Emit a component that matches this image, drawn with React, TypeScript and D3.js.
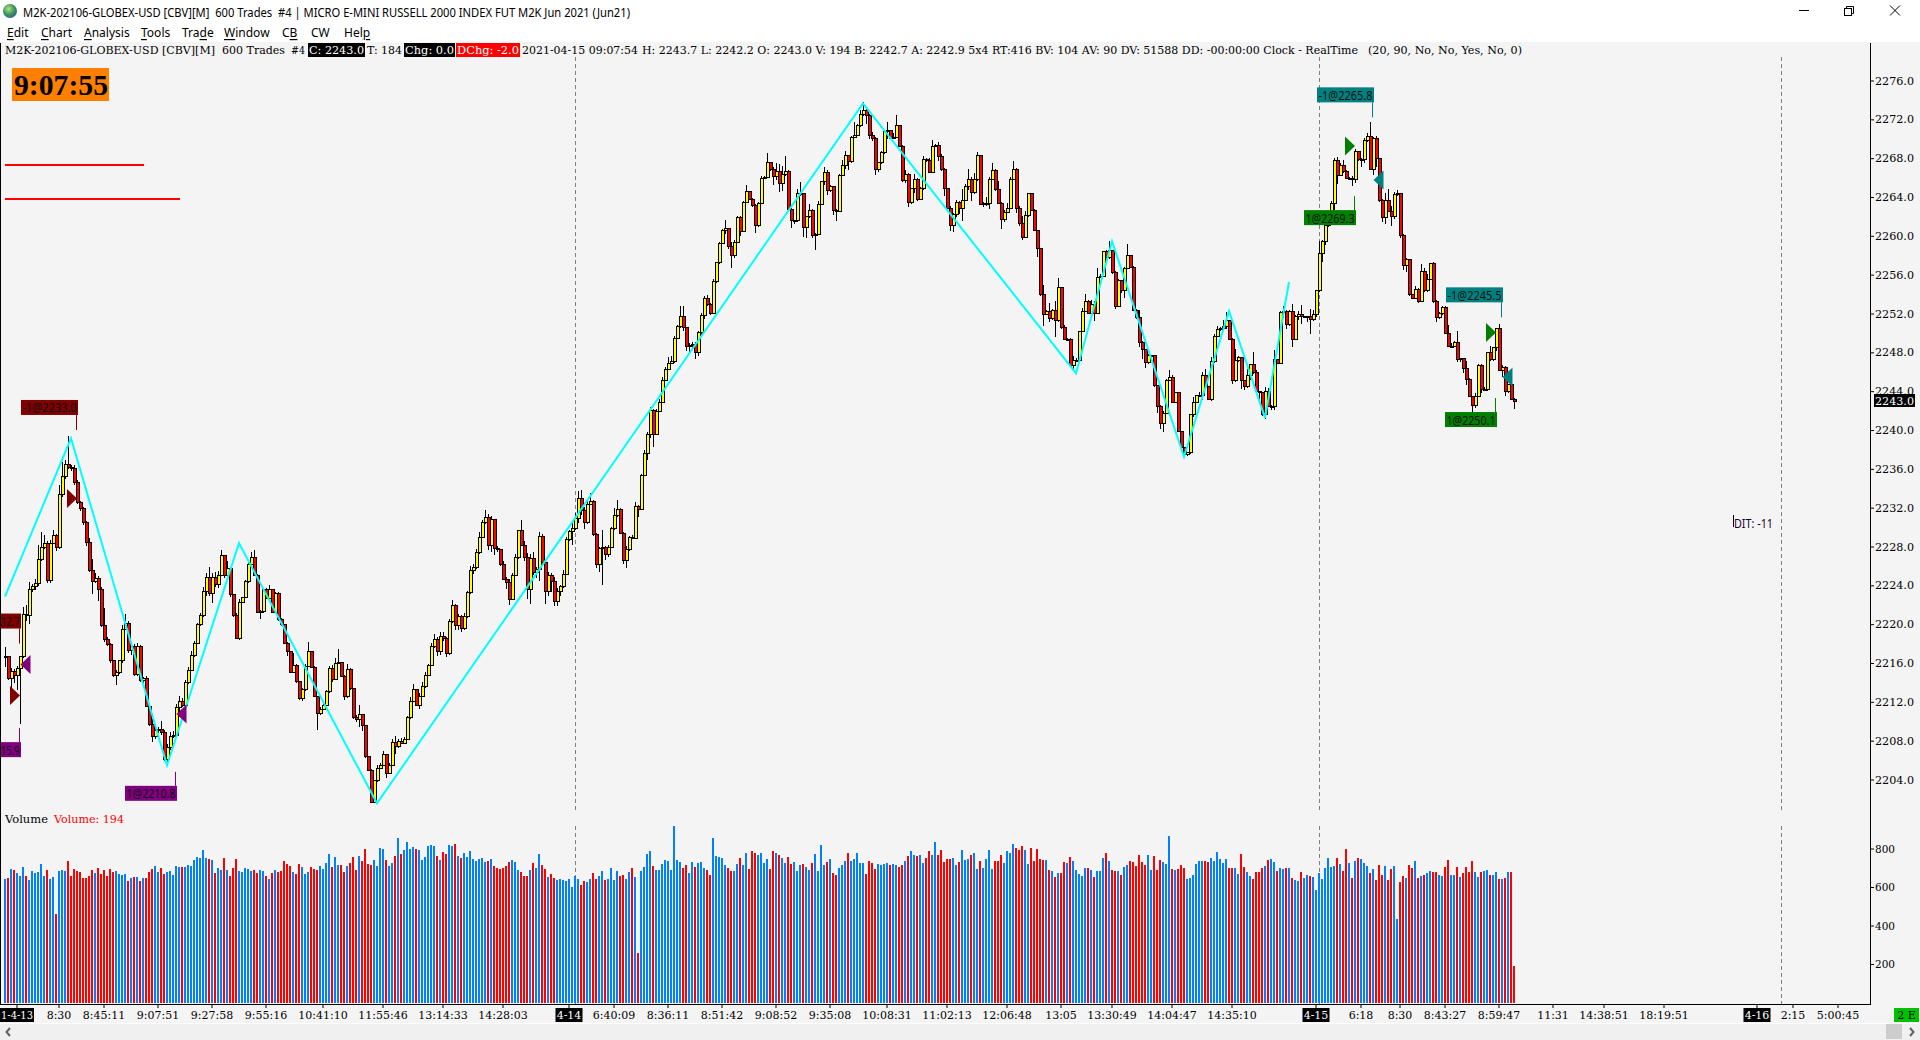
import React from 'react';
import * as d3 from 'd3';

const WIDTH = 1920;
const HEIGHT = 1040;
const AXIS_X = 1871;
const BASE_Y = 1004;

// last trade of each 600 trade bar, open is the previous bar's close
const closes = [
  2216.7,2214.5,2215.2,2214.8,2215.5,2216.7,2221.0,2220.9,2223.6,2223.9,
  2224.2,2226.7,2228.0,2228.4,2224.5,2228.4,2229.2,2227.9,2233.4,2235.3,
  2236.5,2236.2,2236.1,2234.6,2232.6,2232.0,2230.5,2228.5,2225.6,2224.4,
  2224.8,2223.6,2219.9,2218.5,2218.0,2216.3,2214.8,2215.1,2216.3,2219.5,
  2220.1,2217.3,2217.7,2214.9,2217.8,2214.3,2214.5,2211.6,2209.7,2208.5,
  2209.1,2209.2,2208.9,2206.1,2207.3,2208.5,2208.6,2211.5,2212.1,2211.7,
  2214.0,2215.3,2216.8,2218.1,2220.0,2220.9,2223.4,2224.9,2223.2,2224.9,
  2224.1,2225.1,2227.1,2225.1,2225.8,2223.1,2220.9,2218.6,2222.3,2222.8,
  2224.4,2226.2,2226.9,2225.1,2221.3,2221.4,2223.6,2222.7,2223.6,2221.3,
  2223.2,2220.5,2220.0,2218.1,2217.2,2215.1,2215.8,2214.1,2212.4,2213.3,
  2215.7,2217.2,2215.6,2212.6,2210.8,2211.3,2211.7,2213.1,2215.5,2214.4,
  2216.0,2216.1,2214.7,2212.6,2215.4,2213.4,2210.4,2210.2,2210.7,2209.6,
  2206.4,2205.0,2201.7,2203.9,2205.2,2205.5,2206.6,2204.7,2205.5,2207.9,
  2207.4,2208.0,2207.8,2208.2,2210.4,2212.1,2213.3,2211.7,2212.6,2213.6,
  2214.8,2215.8,2217.7,2218.5,2217.2,2218.8,2218.6,2217.0,2220.3,2222.0,
  2219.9,2220.8,2219.6,2220.8,2223.3,2225.6,2225.9,2227.4,2229.0,2230.5,
  2231.0,2228.2,2230.8,2227.8,2227.7,2226.2,2224.7,2224.3,2222.6,2225.1,
  2226.9,2229.7,2228.2,2226.9,2223.6,2226.8,2225.4,2225.7,2229.1,2226.4,
  2223.4,2225.1,2224.4,2222.4,2223.4,2223.9,2225.2,2228.8,2229.6,2229.9,
  2230.9,2233.0,2231.8,2230.5,2232.4,2232.7,2229.3,2226.2,2227.8,2228.0,
  2227.2,2228.0,2229.9,2231.2,2231.9,2229.4,2226.6,2227.7,2229.0,2228.9,
  2232.2,2231.9,2235.4,2237.6,2239.6,2242.1,2239.6,2242.0,2242.9,2245.2,
  2246.3,2246.9,2247.1,2249.5,2250.7,2251.7,2250.6,2248.7,2248.8,2248.9,
  2248.0,2250.1,2251.8,2253.6,2253.0,2252.1,2255.3,2257.3,2259.3,2260.6,
  2260.8,2259.0,2258.0,2259.4,2261.9,2260.5,2263.5,2264.6,2263.8,2263.2,
  2261.1,2263.4,2266.0,2266.1,2267.6,2266.9,2266.2,2266.7,2265.4,2266.4,
  2266.7,2262.8,2261.6,2261.6,2264.4,2264.4,2260.9,2262.0,2262.7,2260.1,
  2260.2,2263.3,2265.6,2266.6,2264.7,2265.1,2262.7,2262.6,2266.3,2267.3,
  2268.3,2267.7,2270.2,2270.4,2271.4,2272.5,2273.0,2272.4,2270.4,2270.1,
  2266.9,2267.6,2268.6,2270.8,2270.9,2270.1,2270.2,2271.4,2269.3,2265.8,
  2266.4,2263.5,2264.9,2265.9,2263.8,2264.9,2267.9,2267.8,2266.6,2269.3,
  2269.4,2268.2,2266.9,2264.9,2262.9,2261.1,2262.2,2263.5,2262.9,2263.7,
  2265.1,2265.9,2264.5,2265.9,2268.3,2263.3,2263.4,2263.4,2265.9,2266.8,
  2264.8,2263.4,2261.7,2262.5,2262.9,2265.9,2266.9,2262.9,2261.3,2259.9,
  2262.1,2264.4,2262.7,2260.6,2258.7,2254.0,2252.0,2252.3,2251.5,2252.4,
  2251.3,2254.7,2250.6,2249.4,2249.4,2246.7,2247.2,2247.2,2250.2,2252.3,
  2253.3,2252.1,2253.0,2252.1,2255.8,2255.9,2258.4,2257.8,2258.5,2256.3,
  2252.8,2255.4,2254.4,2256.7,2258.0,2256.8,2252.4,2251.6,2249.1,2248.3,
  2247.0,2247.7,2247.7,2244.6,2242.5,2240.7,2241.8,2245.2,2245.5,2242.9,
  2243.9,2239.9,2238.2,2237.5,2237.7,2241.6,2242.9,2243.6,2243.6,2245.7,
  2244.5,2243.2,2247.1,2249.7,2250.4,2250.5,2250.7,2251.3,2249.4,2245.1,
  2247.2,2247.5,2245.1,2244.5,2245.7,2246.8,2246.0,2244.0,2243.9,2241.6,
  2244.0,2242.5,2242.5,2247.3,2246.9,2252.2,2252.3,2250.9,2252.3,2249.4,
  2251.7,2252.0,2251.7,2251.7,2251.7,2251.4,2251.9,2254.4,2258.2,2259.5,
  2261.1,2262.1,2263.4,2267.8,2266.3,2267.3,2266.7,2266.0,2266.0,2265.9,
  2268.7,2267.9,2267.9,2269.9,2270.3,2266.9,2270.1,2268.0,2263.7,2261.9,
  2263.7,2262.6,2262.0,2264.3,2264.4,2260.1,2257.0,2257.6,2254.0,2253.6,
  2254.5,2253.3,2256.4,2254.4,2255.6,2257.2,2253.3,2251.6,2252.1,2252.7,
  2250.0,2248.7,2248.7,2249.1,2247.3,2247.4,2246.4,2245.3,2243.5,2242.6,
  2243.5,2246.7,2244.2,2244.2,2248.0,2247.3,2248.5,2250.5,2246.2,2246.5,
  2244.0,2244.7,2243.2,2243.0,
];
const firstOpen = 2216.6;

// wick lengths above / below the body, in points
const upperWicks = [
  1.0,0.1,0.3,0.2,0.2,0.1,0.8,1.0,0.8,0.3,
  0.5,1.5,1.5,0.8,0.2,0.3,0.5,0.1,1.0,1.5,
  0.5,2.9,0.2,0.3,0.3,0.1,0.1,0.2,0.4,1.2,
  0.5,0.2,0.3,1.8,0.2,0.1,0.1,0.2,0.1,0.5,
  1.0,0.3,0.5,0.3,0.3,0.1,0.1,0.2,0.1,0.6,
  0.4,0.3,0.9,0.2,0.4,0.4,0.4,0.3,0.6,0.3,
  0.3,0.3,0.5,0.2,0.2,0.3,0.5,0.4,1.0,0.4,
  0.5,0.4,0.6,0.1,0.8,0.1,0.1,0.3,0.3,0.1,
  0.2,0.2,0.6,0.8,0.1,0.1,0.1,0.2,0.5,0.1,
  0.2,0.2,0.2,0.1,0.1,0.1,1.3,0.1,0.1,0.2,
  0.2,1.0,0.1,0.1,0.1,0.2,0.3,0.2,0.2,0.3,
  0.6,1.4,0.1,0.1,0.6,0.1,0.1,0.3,1.0,0.1,
  0.1,0.1,0.1,0.1,0.3,0.2,0.4,0.1,0.2,0.3,
  0.6,0.2,0.3,0.2,0.2,0.5,0.6,0.1,0.4,0.5,
  0.3,0.2,0.4,0.5,0.2,0.4,0.4,0.1,0.3,0.5,
  0.1,0.3,0.2,0.4,0.2,0.4,0.4,0.4,0.5,0.3,
  0.8,0.4,0.4,0.1,0.3,0.1,0.4,0.2,0.4,0.2,
  0.4,0.1,1.1,0.4,0.5,0.5,0.7,0.2,0.4,0.2,
  0.2,0.3,0.2,0.5,0.4,0.2,0.4,0.2,0.2,0.6,
  0.6,0.8,0.9,0.3,0.5,0.9,0.1,0.1,0.2,1.7,
  0.1,0.2,0.2,0.8,0.9,0.1,0.1,0.4,0.1,0.2,
  0.4,0.1,0.1,0.4,0.2,0.3,0.1,0.2,0.3,0.3,
  0.2,0.7,0.6,0.2,0.2,1.1,1.1,0.1,0.2,0.2,
  0.2,0.2,0.3,0.3,0.4,0.1,0.3,0.1,0.1,0.2,
  0.9,0.1,0.4,0.2,0.2,0.2,0.1,0.7,0.1,0.1,
  0.1,0.1,0.2,0.1,1.0,0.1,0.2,0.9,0.7,0.8,
  1.6,0.1,0.1,0.1,0.5,1.2,0.1,0.1,0.6,0.1,
  0.1,0.3,0.1,0.5,0.2,0.2,0.1,0.1,0.1,0.6,
  0.5,0.1,0.1,1.4,0.2,0.5,0.8,0.3,0.2,0.3,
  0.1,0.1,0.2,0.2,0.9,0.1,0.4,1.1,0.1,0.1,
  0.4,0.1,0.1,0.5,0.1,0.2,0.4,0.2,0.3,0.6,
  0.1,0.3,0.3,0.1,0.1,0.2,0.2,0.2,0.1,1.2,
  0.3,1.0,0.2,0.6,0.4,0.1,0.1,0.7,0.2,0.8,
  0.1,0.9,0.1,0.2,0.5,0.2,0.9,0.1,0.2,0.8,
  0.5,0.1,0.1,0.1,0.1,0.1,1.0,0.1,0.8,0.1,
  0.9,1.0,0.1,0.3,0.1,0.1,0.5,0.3,0.1,0.3,
  0.8,0.1,0.4,0.3,0.9,0.2,0.1,0.2,1.0,0.1,
  0.1,0.2,0.1,0.1,1.2,0.1,0.1,0.1,0.8,0.1,
  0.1,0.2,0.1,0.1,0.1,0.1,0.2,0.1,0.7,0.2,
  0.1,0.1,0.1,0.1,0.1,0.1,0.5,0.1,0.4,0.3,
  0.6,0.1,0.5,0.2,0.4,0.2,0.7,0.9,0.1,0.1,
  1.2,0.2,0.1,0.1,0.6,0.1,1.3,0.2,0.1,0.1,
  0.5,0.4,0.1,1.0,0.1,0.1,0.5,0.1,0.1,0.7,
  0.2,0.3,0.9,0.1,0.1,0.8,0.5,0.1,1.3,0.1,
  0.5,0.1,0.2,0.3,0.4,0.3,0.6,0.1,0.1,0.2,
  0.3,0.1,0.2,0.2,0.3,1.5,0.1,0.2,0.1,0.1,
  0.8,1.2,0.5,0.3,0.4,0.1,0.1,0.2,0.1,0.1,
  0.4,0.2,0.8,0.3,0.5,0.1,0.2,0.1,0.1,0.1,
  0.1,0.9,0.3,0.1,1.1,0.1,0.1,0.8,0.1,0.1,
  0.4,0.1,0.2,0.3,0.1,0.7,0.1,0.1,0.5,0.2,
  0.1,0.1,0.1,0.1,
];
const lowerWicks = [
  1.0,0.2,1.3,0.8,1.5,5.7,0.1,0.5,0.8,0.2,
  0.3,0.2,0.1,0.2,0.2,0.2,0.1,0.3,0.1,0.2,
  0.3,0.2,0.3,0.2,0.2,0.3,0.2,0.4,0.2,1.2,
  0.1,1.2,0.1,0.3,0.2,0.2,0.2,1.0,0.2,0.2,
  0.1,0.2,0.4,0.2,0.2,0.2,0.3,0.1,0.1,0.6,
  0.3,0.3,0.3,0.1,0.2,0.2,0.2,0.2,1.0,0.2,
  0.1,0.1,0.1,0.1,0.1,0.1,0.1,0.4,0.2,1.0,
  0.2,0.3,0.1,0.3,0.1,0.3,0.1,0.1,0.2,0.1,
  0.1,0.1,0.1,0.1,0.1,0.7,0.2,0.1,0.4,0.1,
  0.1,0.1,0.1,0.1,0.4,0.1,0.1,0.1,0.2,0.3,
  0.1,0.1,0.1,0.1,1.6,0.1,0.1,0.1,0.1,0.3,
  0.1,0.1,0.1,0.4,0.2,0.1,0.1,0.2,0.7,0.6,
  0.1,0.1,0.1,0.1,0.1,0.1,0.1,0.5,0.1,0.1,
  0.7,0.1,0.1,0.1,0.1,0.1,0.1,0.1,0.4,0.1,
  0.1,0.1,0.1,0.1,0.4,0.3,0.3,0.3,0.1,0.1,
  0.4,0.5,0.4,0.1,0.1,0.1,0.4,0.2,0.1,0.1,
  0.1,0.5,0.7,0.6,0.2,0.2,0.1,0.6,0.6,0.1,
  0.1,0.1,0.1,0.3,1.0,1.5,0.3,0.6,1.2,0.2,
  1.3,0.4,1.0,0.5,0.5,0.4,0.1,0.1,0.2,1.4,
  0.1,0.4,0.5,0.6,0.1,0.1,0.2,0.4,0.8,3.7,
  0.5,0.2,0.1,0.1,0.1,0.1,0.3,0.8,0.1,0.1,
  0.1,0.8,0.1,0.1,0.6,0.4,1.3,0.1,0.1,0.1,
  0.1,0.1,0.1,0.1,0.1,0.1,0.3,0.5,0.8,0.5,
  0.6,0.3,0.4,0.3,0.2,0.2,0.1,0.1,0.1,0.1,
  0.4,0.3,1.3,0.2,0.1,0.5,0.1,0.1,0.1,0.2,
  0.8,0.1,0.1,0.1,0.1,0.2,0.9,0.4,0.8,0.7,
  0.2,0.3,0.7,0.3,0.1,0.2,1.0,1.1,0.1,0.3,
  1.5,0.1,0.1,0.3,0.4,0.1,0.5,1.0,0.1,0.1,
  0.4,0.9,0.1,0.1,0.1,0.1,0.1,0.8,0.4,0.3,
  0.6,0.3,0.2,0.1,0.8,0.1,0.1,0.1,0.1,0.2,
  0.3,0.5,0.2,0.4,0.2,0.1,0.1,0.1,0.1,0.1,
  0.1,0.4,0.2,0.7,0.3,0.5,0.7,0.2,0.6,1.3,
  0.1,0.3,0.9,0.1,0.2,0.1,0.3,0.3,0.6,0.1,
  0.1,0.1,0.9,0.2,0.1,0.1,0.1,0.5,0.2,0.3,
  0.1,0.1,0.1,0.1,0.8,0.1,1.2,0.1,0.3,0.1,
  1.7,0.1,0.1,0.1,0.1,0.1,0.5,0.1,0.1,0.1,
  0.1,0.1,0.2,0.8,0.1,0.1,0.1,0.1,0.1,0.2,
  0.3,0.1,0.2,0.8,0.1,0.1,0.1,0.1,0.5,0.9,
  0.6,0.1,0.1,0.1,0.7,0.5,0.9,0.1,0.1,0.1,
  0.1,0.1,0.1,0.1,0.1,0.1,0.2,0.1,0.1,0.5,
  0.1,0.1,0.2,0.1,0.1,0.1,0.3,0.2,0.1,0.3,
  0.1,0.1,0.8,0.3,0.1,0.5,0.2,0.1,0.9,0.1,
  0.4,0.1,0.4,0.4,0.1,0.1,0.6,0.4,0.1,0.8,
  0.1,0.3,0.7,0.1,0.5,1.5,0.1,0.2,0.1,0.8,
  0.4,0.1,0.1,0.7,0.9,0.1,0.2,0.1,0.1,0.7,
  0.4,0.1,0.8,0.3,0.2,0.1,0.6,0.9,0.2,0.4,
  0.6,0.1,0.9,0.2,0.1,0.3,0.5,0.7,0.1,0.1,
  0.1,0.2,0.1,0.1,0.1,0.1,0.2,0.4,0.1,0.2,
  0.1,0.1,0.1,0.1,0.2,0.2,0.5,0.6,0.1,0.8,
  0.3,0.1,0.3,0.1,0.1,0.1,0.1,0.3,0.1,0.7,
  0.4,0.1,0.1,0.8,
];

const volumes = [
  644,649,696,691,675,660,706,660,639,686,
  675,680,722,660,691,644,654,462,686,691,
  686,738,660,696,686,680,649,649,660,691,
  675,701,670,691,660,696,680,686,670,665,
  670,634,649,654,654,634,649,649,680,696,
  712,680,701,670,680,686,665,712,706,706,
  706,717,712,743,758,753,795,753,748,743,
  675,701,691,753,691,660,701,748,686,680,
  701,696,686,691,675,691,686,660,644,675,
  691,680,686,738,722,712,680,670,722,706,
  670,680,706,696,691,712,696,727,774,706,
  758,717,717,680,712,727,758,691,764,738,
  800,722,717,743,712,805,800,743,712,727,
  764,857,774,795,836,800,810,800,795,743,
  758,815,821,815,764,743,784,774,821,815,
  826,764,753,779,758,790,748,738,748,753,
  732,738,748,712,701,696,701,712,732,743,
  732,691,680,660,660,691,727,701,774,717,
  696,654,670,649,639,644,639,634,644,602,
  660,642,613,634,627,644,675,644,660,686,
  639,644,701,639,686,660,665,644,680,701,654,260,
  686,706,774,790,712,691,691,722,743,738,
  691,919,743,732,701,717,675,732,706,727,
  732,701,691,665,857,764,758,753,717,701,
  686,686,722,753,717,779,696,790,779,769,
  779,727,748,696,790,779,769,753,727,758,
  722,732,686,717,722,706,691,727,774,686,
  821,717,732,748,675,665,701,717,738,779,
  738,748,779,727,727,670,738,727,696,722,
  717,722,727,717,722,717,706,717,738,764,
  790,769,764,769,727,753,790,769,836,769,
  795,732,748,748,753,717,732,795,743,748,
  769,779,696,738,701,748,795,696,738,738,
  769,727,790,779,826,805,795,815,795,722,
  805,738,800,748,743,743,691,686,654,675,
  675,732,727,758,738,691,670,660,701,701,
  691,654,686,686,753,779,738,691,686,686,
  665,706,717,738,732,712,769,732,717,769,
  691,764,691,743,732,722,867,696,691,696,
  717,701,644,649,665,722,738,738,738,732,
  753,738,784,748,727,748,701,701,701,670,
  774,706,680,660,644,680,680,701,712,743,
  748,732,686,701,
  696,701,701,649,639,634,680,649,665,660,
  654,587,675,644,701,753,706,712,753,722,
  686,800,727,649,738,753,748,727,712,675,
  696,639,717,665,712,639,696,712,436,628,
  660,649,717,701,738,649,660,665,675,686,
  680,680,665,660,706,743,665,665,706,654,
  675,706,680,738,680,654,680,686,691,665,
  665,680,644,644,649,680,680,194,
];

const priceTicks = d3.range(2204, 2280, 4);
const volumeTicks = [200, 400, 600, 800];
const lastPrice = 2243.0;

// zigzag study pivots
const zigzagBars = [0, 22, 54, 78, 124, 286, 357, 369, 393, 408, 420, 428];
const zigzagPrices = [2222.9, 2239.2, 2205.5, 2228.4, 2201.6, 2273.7, 2245.9, 2259.5, 2237.3, 2252.3, 2241.3, 2255.3];

// trades shown on the chart, the two at the left edge only show the end of their label
const tradeLabels = ['-1@2233.0', '12.7', '15.9', '1@2210.8', '-1@2265.8', '1@2269.3', '-1@2245.5', '1@2250.1'];
const tradePrices = [2233.0, 2212.7, 2215.9, 2210.8, 2265.8, 2269.3, 2245.5, 2250.1];
const tradeBars = [24, 5, 5, 57, 456, 450, 499, 497];
const tradeLabelPrices = [2241.6, 2219.6, 2207.9, 2203.4, 2273.8, 2262.7, 2253.2, 2241.9];
const tradeLabelAbove = [true, true, false, false, true, false, true, false];
const tradePointsRight = [true, true, false, false, false, true, false, true];
const tradeColors = ['#800000', '#800000', '#800080', '#800080', '#008080', '#007f00', '#008080', '#007f00'];

const timeLabels = ['8:30', '8:45:11', '9:07:51', '9:27:58', '9:55:16', '10:41:10', '11:55:46', '13:14:33', '14:28:03', '6:40:09', '8:36:11', '8:51:42', '9:08:52', '9:35:08', '10:08:31', '11:02:13', '12:06:48', '13:05', '13:30:49', '14:04:47', '14:35:10', '6:18', '8:30', '8:43:27', '8:59:47', '11:31', '14:38:51', '18:19:51', '2:15', '5:00:45'];
const timeBars = [18, 33, 51, 69, 87, 106, 126, 146, 166, 203, 221, 239, 257, 275, 294, 314, 334, 352, 369, 389, 409, 452, 465, 480, 498, 516, 533, 553, 596, 611];
const dateLabels = ['1-4-13', '4-14', '4-15', '4-16'];
const dateBars = [4, 188, 437, 584];
const sessionBars = [190, 438, 592];

const menuItems = ['Edit', 'Chart', 'Analysis', 'Tools', 'Trade', 'Window', 'CB', 'CW', 'Help'];
const menuHotkeys = [0, 0, 0, 0, 3, 0, 1, -1, 3];
const menuX = [7, 41, 84, 141, 182, 224, 282, 311, 344];

const SERIF = '"DejaVu Serif", serif';
const SANS = '"Noto Sans", sans-serif';

const xScale = d3.scaleLinear().domain([0, 503]).range([5, 1514]);
const yPrice = d3.scaleLinear().domain([2276, 2204]).range([81, 780]);
const yVolume = d3.scaleLinear().domain([0, 800]).range([1003, 849]);

const opens = closes.map((_, i) => (i === 0 ? firstOpen : closes[i - 1]));

function Fit({ x, y, w, children, fill = '#000', size = 11, font = SERIF, anchor = 'start', weight = 'normal' }: any) {
  return (
    <text
      x={x}
      y={y}
      fontFamily={font}
      fontSize={size}
      fontWeight={weight}
      fill={fill}
      textAnchor={anchor}
      dominantBaseline="central"
      textLength={w}
      lengthAdjust={w ? 'spacingAndGlyphs' : undefined}
      xmlSpace="preserve"
    >
      {children}
    </text>
  );
}

function Header() {
  return (
    <g>
      <Fit x={5} y={50} w={210}>M2K-202106-GLOBEX-USD [CBV][M]</Fit>
      <Fit x={222} y={50} w={63}>600 Trades</Fit>
      <Fit x={291} y={50} w={14}>#4</Fit>
      <rect x={308} y={43} width={57} height={14} fill="#000" />
      <Fit x={309} y={50} w={55} fill="#fff">C: 2243.0</Fit>
      <Fit x={367} y={50} w={35}>T: 184</Fit>
      <rect x={404} y={43} width={51} height={14} fill="#000" />
      <Fit x={405} y={50} w={49} fill="#fff">Chg: 0.0</Fit>
      <rect x={456} y={43} width={64} height={14} fill="#ff0000" />
      <Fit x={457} y={50} w={62} fill="#fff">DChg: -2.0</Fit>
      <Fit x={522} y={50} w={116}>2021-04-15 09:07:54</Fit>
      <Fit x={642} y={50} w={716}>H: 2243.7 L: 2242.2 O: 2243.0 V: 194 B: 2242.7 A: 2242.9 5x4 RT:416 BV: 104 AV: 90 DV: 51588 DD: -00:00:00 Clock - RealTime</Fit>
      <Fit x={1368} y={50} w={154}>(20, 90, No, No, Yes, No, 0)</Fit>
    </g>
  );
}

function TitleBar() {
  return (
    <g>
      <rect width={WIDTH} height={42} fill="#fff" />
      <defs>
        <radialGradient id="globe" cx="40%" cy="35%" r="70%">
          <stop offset="0%" stopColor="#b8e08a" />
          <stop offset="55%" stopColor="#3f9a55" />
          <stop offset="100%" stopColor="#2a5f9a" />
        </radialGradient>
      </defs>
      <circle cx={10} cy={11} r={7} fill="url(#globe)" />
      <Fit x={23} y={12} w={607} font={SANS} size={12}>M2K-202106-GLOBEX-USD [CBV][M]  600 Trades  #4 | MICRO E-MINI RUSSELL 2000 INDEX FUT M2K Jun 2021 (Jun21)</Fit>
      {menuItems.map((m, i) => (
        <text key={m} x={menuX[i]} y={32} fontFamily={SANS} fontSize={12} dominantBaseline="central" fill="#000">
          {m.split('').map((c, j) => (
            <tspan key={j} textDecoration={j === menuHotkeys[i] ? 'underline' : undefined}>{c}</tspan>
          ))}
        </text>
      ))}
      <line x1={1799} x2={1809} y1={10.5} y2={10.5} stroke="#000" />
      <rect x={1844.5} y={8.5} width={7} height={7} fill="#fff" stroke="#000" />
      <path d="M1846.5 8.5V6.5H1853.5V13.5H1851.5" fill="none" stroke="#000" />
      <path d="M1890 5.5L1900 15.5M1900 5.5L1890 15.5" stroke="#000" fill="none" />
    </g>
  );
}

function Candles() {
  return (
    <g shapeRendering="crispEdges">
      {closes.map((c, i) => {
        const o = opens[i];
        const top = Math.max(o, c);
        const bot = Math.min(o, c);
        const cx = Math.round(xScale(i));
        return (
          <g key={i}>
            <line
              x1={cx + 0.5}
              x2={cx + 0.5}
              y1={yPrice(top + upperWicks[i])}
              y2={yPrice(bot - lowerWicks[i])}
              stroke="#000"
            />
            <rect
              x={cx - 0.5}
              y={yPrice(top)}
              width={3}
              height={Math.max(yPrice(bot) - yPrice(top), 1)}
              fill={c >= o ? '#ffff00' : '#ff0000'}
              stroke="#000"
            />
          </g>
        );
      })}
    </g>
  );
}

function Trades() {
  return (
    <g>
      {tradeLabels.map((label, i) => {
        const sx = xScale(tradeBars[i]) - 0.5;
        const py = yPrice(tradePrices[i]);
        const edge = yPrice(tradeLabelPrices[i]);
        const short = label.length < 5;
        const boxW = short ? 21.5 : label.startsWith('-') ? 57 : 52;
        const boxY = tradeLabelAbove[i] ? edge - 15 : edge;
        const color = tradeColors[i];
        const tri = tradePointsRight[i]
          ? `M${sx - 9.5} ${py - 9.5}L${sx + 0.5} ${py}L${sx - 9.5} ${py + 9.5}Z`
          : `M${sx + 11} ${py - 9.5}L${sx + 1} ${py}L${sx + 11} ${py + 9.5}Z`;
        return (
          <g key={label}>
            <path d={tri} fill={color} />
            <line
              x1={sx}
              x2={sx}
              y1={tradeLabelAbove[i] ? edge : edge - 14}
              y2={tradeLabelAbove[i] ? edge + 15 : edge}
              stroke={color}
            />
            <rect x={sx + 1.5 - boxW} y={boxY} width={boxW} height={15} fill={color} />
            <Fit x={sx + 2 - boxW + 1} y={boxY + 7.5} w={boxW - 3} font={SANS} size={13} fill="#111">{label}</Fit>
          </g>
        );
      })}
    </g>
  );
}

function App() {
  const zigzag = d3
    .line<number>()
    .x((b) => xScale(b))
    .y((_, i) => yPrice(zigzagPrices[i]));

  return (
    <svg
      width={WIDTH}
      height={HEIGHT}
      viewBox={`0 0 ${WIDTH} ${HEIGHT}`}
      style={{ position: 'absolute', left: 0, top: 0, display: 'block' }}
    >
      <rect width={WIDTH} height={HEIGHT} fill="#fff" />
      <rect y={42} width={WIDTH} height={981} fill="#f4f4f4" />
      <TitleBar />
      <Header />

      <rect x={12} y={68} width={97} height={33} fill="#ff8000" />
      <Fit x={14} y={85} w={94} font='"Liberation Serif", serif' size={29} weight="bold">9:07:55</Fit>

      <rect x={5} y={164} width={139} height={2} fill="#ff0000" />
      <rect x={5} y={198} width={175} height={2} fill="#ff0000" />

      <g stroke="#808080" strokeDasharray="4 3" shapeRendering="crispEdges">
        {sessionBars.map((b) => (
          <g key={b}>
            <line x1={xScale(b) + 0.5} x2={xScale(b) + 0.5} y1={57} y2={810} />
            <line x1={xScale(b) + 0.5} x2={xScale(b) + 0.5} y1={826} y2={BASE_Y} />
          </g>
        ))}
      </g>

      <Candles />
      <path d={zigzag(zigzagBars) as string} fill="none" stroke="#00ffff" strokeWidth={2} />
      <Trades />

      <Fit x={1734} y={523} w={39} font={SANS} size={13} fill="#1a0033">DIT: -11</Fit>
      <line x1={1733.5} x2={1733.5} y1={515} y2={527} stroke="#000" />

      <Fit x={5} y={819} w={43}>Volume</Fit>
      <Fit x={54} y={819} w={70} fill="#ff0000">Volume: 194</Fit>

      <g shapeRendering="crispEdges">
        {volumes.map((v, i) => (
          <rect
            key={i}
            x={xScale(i) - 1}
            y={yVolume(v)}
            width={2}
            height={yVolume(0) - yVolume(v)}
            fill={closes[i] >= opens[i] ? '#0080ff' : '#ff0000'}
          />
        ))}
      </g>

      <g shapeRendering="crispEdges" stroke="#000">
        <line x1={0.5} x2={0.5} y1={43} y2={BASE_Y} />
        <line x1={AXIS_X - 0.5} x2={AXIS_X - 0.5} y1={43} y2={BASE_Y + 1} />
        <line x1={0} x2={AXIS_X} y1={BASE_Y + 0.5} y2={BASE_Y + 0.5} />
      </g>

      {priceTicks.map((t) => (
        <g key={t}>
          <line x1={AXIS_X} x2={AXIS_X + 3} y1={yPrice(t)} y2={yPrice(t)} stroke="#000" />
          <Fit x={1875} y={yPrice(t)} w={39}>{d3.format('.1f')(t)}</Fit>
        </g>
      ))}
      <rect x={1874} y={394} width={41} height={13} fill="#000" />
      <Fit x={1875} y={yPrice(lastPrice)} w={39} fill="#fff">{d3.format('.1f')(lastPrice)}</Fit>

      {volumeTicks.map((t) => (
        <g key={t}>
          <line x1={AXIS_X} x2={AXIS_X + 3} y1={yVolume(t)} y2={yVolume(t)} stroke="#000" />
          <Fit x={1875} y={yVolume(t)} w={20}>{t}</Fit>
        </g>
      ))}

      {timeLabels.map((t, i) => (
        <g key={i}>
          <line x1={xScale(timeBars[i])} x2={xScale(timeBars[i])} y1={BASE_Y} y2={BASE_Y + 4} stroke="#000" />
          <Fit x={xScale(timeBars[i])} y={1015} anchor="middle">{t}</Fit>
        </g>
      ))}
      {dateLabels.map((t, i) => {
        const w = i === 0 ? 34 : 27;
        const x = xScale(dateBars[i]);
        const textW = i === 0 ? 32 : undefined;
        return (
          <g key={t}>
            <line x1={x} x2={x} y1={BASE_Y} y2={BASE_Y + 4} stroke="#000" />
            <rect x={x - w / 2} y={1008} width={w} height={14} fill="#000" />
            <Fit x={x} y={1015} w={textW} anchor="middle" fill="#fff">{t}</Fit>
          </g>
        );
      })}
      <rect x={1894} y={1008} width={25} height={14} fill="#00c000" />
      <Fit x={1906.5} y={1015} anchor="middle">2 E</Fit>

      <rect y={1023} width={WIDTH} height={1} fill="#fff" />
      <rect y={1024} width={WIDTH} height={16} fill="#f0f0f0" />
      <rect x={1886} y={1024} width={16} height={15} fill="#cdcdcd" />
      <path d="M10 1028L6.5 1032L10 1036" fill="none" stroke="#606060" strokeWidth={2} />
      <path d="M1910 1028L1913.5 1032L1910 1036" fill="none" stroke="#606060" strokeWidth={2} />
    </svg>
  );
}

export default App;
